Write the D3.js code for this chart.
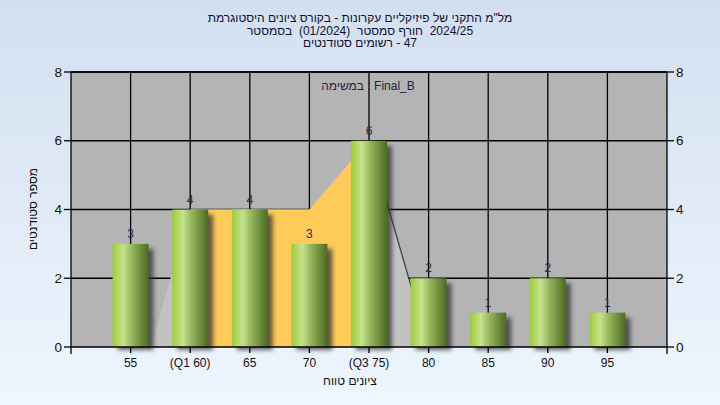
<!DOCTYPE html>
<html><head><meta charset="utf-8">
<script src="https://cdn.jsdelivr.net/npm/d3@7"></script>
<style>html,body{margin:0;padding:0;}svg{display:block;}</style>
</head><body>
<script>
const grades = [55, 60, 65, 70, 75, 80, 85, 90, 95];
const tickLabels = ["55", "(Q1 60)", "65", "70", "(Q3 75)", "80", "85", "90", "95"];
const counts = [3, 4, 4, 3, 6, 2, 1, 2, 1];
const yTicks = [0, 2, 4, 6, 8];
const areaGrades = [56.7, 60, 65, 70, 75, 80];
const areaValues = [0, 4, 4, 4, 6, 0];
const q1 = 60, q3 = 75;
// words in visual left-to-right order, as shown in the reference
const titleLines = [
  ["היסטוגרמת", "ציונים", "בקורס", "-", "עקרונות", "פיזיקליים", "של", "התקני", "מל\"מ"],
  ["בסמסטר", " (01/2024) ", "סמסטר", "חורף", " 2024/25"],
  ["סטודנטים", "רשומים", "-", "47"]
];
const legendWords = ["במשימה", ":", "Final_B"];
const xTitleWords = ["טווח", "ציונים"];
const yTitle = "מספר סטודנטים";

const W = 720, H = 405;
const L = 71, R = 667, T = 72, B = 347;
const svg = d3.select("body").append("svg").attr("width", W).attr("height", H)
  .style("font-family", "'Liberation Sans', Arial, sans-serif");
const defs = svg.append("defs");
const bg = defs.append("linearGradient").attr("id", "bg").attr("x1", 0).attr("y1", 0).attr("x2", 0).attr("y2", 1);
bg.append("stop").attr("offset", "0%").attr("stop-color", "#d3dff0");
bg.append("stop").attr("offset", "100%").attr("stop-color", "#eef6fe");
const bar = defs.append("linearGradient").attr("id", "bar").attr("x1", 0).attr("y1", 0).attr("x2", 1).attr("y2", 0);
[["0%", "#9ccc3a"], ["30%", "#c6e28c"], ["55%", "#93b45c"], ["100%", "#4c6a22"]]
  .forEach(([o, c]) => bar.append("stop").attr("offset", o).attr("stop-color", c));
const f = defs.append("filter").attr("id", "sh").attr("x", "-30%").attr("y", "-30%").attr("width", "160%").attr("height", "160%");
f.append("feGaussianBlur").attr("stdDeviation", 2.2);

svg.append("rect").attr("width", W).attr("height", H).attr("fill", "url(#bg)");

const x = d3.scalePoint().domain(tickLabels).range([L, R]).padding(1);
const xg = d3.scaleLinear().domain([50, 100]).range([L, R]);
const y = d3.scaleLinear().domain([0, 8]).range([B, T]);

svg.append("rect").attr("x", L).attr("y", T).attr("width", R - L).attr("height", B - T).attr("fill", "#b4b4b4");

// grid
const grid = svg.append("g").attr("stroke", "#000").attr("stroke-width", 1.3);
yTicks.filter(d => d > 0).forEach(d => grid.append("line").attr("x1", L).attr("x2", R).attr("y1", y(d)).attr("y2", y(d)));
tickLabels.forEach(d => grid.append("line").attr("x1", x(d)).attr("x2", x(d)).attr("y1", T).attr("y2", B));

// area
const pts = areaGrades.map((g, i) => [g, areaValues[i]]);
const area = d3.area().x(d => xg(d[0])).y0(y(0)).y1(d => y(d[1]));
svg.append("path").attr("d", area(pts)).attr("fill", "#c2c2c2");
defs.append("clipPath").attr("id", "iqr").append("rect")
  .attr("x", xg(q1)).attr("y", T).attr("width", xg(q3) - xg(q1)).attr("height", B - T);
svg.append("path").attr("d", area(pts)).attr("fill", "#fecb5b").attr("clip-path", "url(#iqr)");
const tail = pts.filter(d => d[0] >= q3);
svg.append("path").attr("d", d3.line().x(d => xg(d[0])).y(d => y(d[1]))(tail))
  .attr("fill", "none").attr("stroke", "#3a3a3a").attr("stroke-width", 1.2);

// bars
const bw = 36;
const gb = svg.append("g");
gb.selectAll(".s").data(counts).join("rect").attr("class", "s")
  .attr("x", (d, i) => x(tickLabels[i]) - bw / 2 + 5).attr("y", d => y(d) + 5)
  .attr("width", bw).attr("height", d => y(0) - y(d) - 2)
  .attr("fill", "#303030").attr("opacity", 0.75).attr("filter", "url(#sh)");
gb.selectAll(".b").data(counts).join("rect").attr("class", "b")
  .attr("x", (d, i) => x(tickLabels[i]) - bw / 2).attr("y", d => y(d))
  .attr("width", bw).attr("height", d => y(0) - y(d)).attr("fill", "url(#bar)");
gb.selectAll(".v").data(counts).join("text").attr("class", "v")
  .attr("x", (d, i) => x(tickLabels[i])).attr("y", d => y(d) - 6)
  .attr("text-anchor", "middle").attr("font-size", 12).attr("fill", "#2a2e48").text(d => d);

// axes
const ax = svg.append("g").attr("stroke", "#000").attr("stroke-width", 1.3);
ax.append("line").attr("x1", L).attr("x2", L).attr("y1", T).attr("y2", B + 7);
ax.append("line").attr("x1", R).attr("x2", R).attr("y1", T).attr("y2", B + 7);
ax.append("line").attr("x1", L).attr("x2", R).attr("y1", B).attr("y2", B);
ax.append("line").attr("x1", L).attr("x2", R).attr("y1", T).attr("y2", T);
yTicks.forEach(d => {
  ax.append("line").attr("x1", L - 7).attr("x2", L).attr("y1", y(d)).attr("y2", y(d));
  ax.append("line").attr("x1", R).attr("x2", R + 7).attr("y1", y(d)).attr("y2", y(d));
});
tickLabels.forEach(d => ax.append("line").attr("x1", x(d)).attr("x2", x(d)).attr("y1", B).attr("y2", B + 6));

const lab = svg.append("g").attr("fill", "#111");
yTicks.forEach(d => {
  lab.append("text").attr("x", L - 9).attr("y", y(d)).attr("dy", "0.35em").attr("text-anchor", "end").attr("font-size", 13.5).text(d);
  lab.append("text").attr("x", R + 9).attr("y", y(d)).attr("dy", "0.35em").attr("text-anchor", "start").attr("font-size", 13.5).text(d);
});
tickLabels.forEach(d => lab.append("text").attr("x", x(d)).attr("y", 367).attr("text-anchor", "middle").attr("font-size", 12).text(d));

// place words one by one, left to right, centred on cx (middle anchor is direction independent)
function words(parent, list, cx, yy, size, fill) {
  const g = parent.append("g");
  const nodes = list.map(w => g.append("text").attr("y", yy).attr("font-size", size).attr("fill", fill)
    .attr("text-anchor", "middle").style("white-space", "pre").text(w));
  const space = size * 0.28;
  const widths = nodes.map(n => n.node().getComputedTextLength());
  const total = d3.sum(widths) + space * (nodes.length - 1);
  let cur = cx - total / 2;
  nodes.forEach((n, i) => { n.attr("x", cur + widths[i] / 2); cur += widths[i] + space; });
  return g;
}

words(svg, xTitleWords, 350, 385, 12, "#111");
lab.append("text").attr("transform", "translate(37,209) rotate(-90)").attr("text-anchor", "middle").attr("font-size", 12).text(yTitle);

words(svg, legendWords, 368, 90, 12, "#2e1a40");
titleLines.forEach((t, i) => words(svg, t, 360, 22 + i * 12.5, 12, "#101030"));
</script>
</body></html>
